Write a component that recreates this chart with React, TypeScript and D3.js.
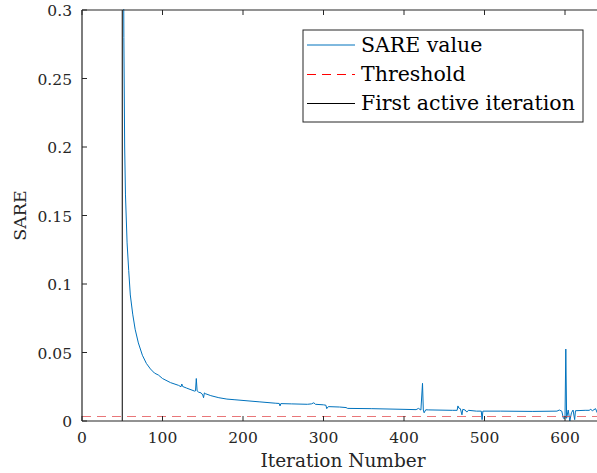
import React from "react";
import * as d3 from "d3";

const iterations = [50, 51, 52, 53, 54, 56, 58, 60, 63, 66, 70, 75, 80, 85, 90, 95, 100, 110, 120, 123, 124, 125, 130, 140, 141, 142, 143, 145, 148, 150, 151, 152, 153, 160, 170, 180, 190, 200, 220, 240, 245, 246, 247, 260, 280, 285, 288, 290, 300, 303, 304, 306, 320, 328, 330, 360, 400, 415, 418, 421, 423, 424, 425, 427, 430, 460, 466, 467, 468, 470, 472, 473, 476, 478, 480, 490, 496, 497, 498, 520, 560, 590, 593, 596, 598, 600, 601, 602, 604, 606, 608, 610, 612, 613, 625, 630, 632, 634, 638, 640, 645];
const sareValues = [0.9, 0.45, 0.28, 0.2, 0.165, 0.13, 0.11, 0.092, 0.078, 0.067, 0.057, 0.048, 0.042, 0.038, 0.035, 0.0335, 0.031, 0.028, 0.026, 0.025, 0.027, 0.0252, 0.024, 0.0218, 0.022, 0.031, 0.022, 0.021, 0.0205, 0.019, 0.017, 0.0205, 0.02, 0.0185, 0.017, 0.016, 0.0155, 0.015, 0.014, 0.013, 0.0128, 0.011, 0.0127, 0.0125, 0.0122, 0.0125, 0.0133, 0.0122, 0.0118, 0.0115, 0.009, 0.0105, 0.0102, 0.0098, 0.0092, 0.009, 0.0085, 0.0083, 0.0092, 0.008, 0.0275, 0.008, 0.006, 0.0082, 0.0081, 0.0078, 0.0078, 0.011, 0.0095, 0.009, 0.0045, 0.0085, 0.008, 0.0065, 0.0078, 0.0072, 0.0072, 0.001, 0.0072, 0.0072, 0.007, 0.0072, 0.008, 0.0072, 0.002, 0.002, 0.0525, 0.002, 0.008, 0.0, 0.006, 0.008, 0.001, 0.0075, 0.0078, 0.0078, 0.0085, 0.0075, 0.009, 0.006, 0.005];
const thresholdValue = 0.004;
const firstActiveIteration = 50;
const xTicks = [0, 100, 200, 300, 400, 500, 600];
const yTicks = [0, 0.05, 0.1, 0.15, 0.2, 0.25, 0.3];
const yTickLabels = ["0", "0.05", "0.1", "0.15", "0.2", "0.25", "0.3"];
const legendLabels = ["SARE value", "Threshold", "First active iteration"];

const W = 597;
const H = 473;
const left = 82;
const top = 10;
const bottom = 421;
const FONT = '"DejaVu Serif", serif';

export default function App() {
  const x = d3.scaleLinear().domain([0, 650]).range([left, left + 650 * 0.805]);
  const y = d3.scaleLinear().domain([0, 0.3]).range([bottom, top]);
  const right = x(650);
  const pts: [number, number][] = iterations.map((it, i) => [it, sareValues[i]]);
  const line = d3
    .line<[number, number]>()
    .x((d) => x(d[0]))
    .y((d) => y(d[1]));
  const axisColor = "#262626";
  const tick = 5;
  const blue = "#0072BD";
  const legX = 303;
  const legY = 30;
  const legW = 280;
  const legH = 92;
  const rows = [45, 74.5, 103.5];
  const ty = Math.round(y(thresholdValue)) + 0.5;
  return (
    <svg
      width={W}
      height={H}
      style={{ position: "absolute", left: 0, top: 0, background: "#fff", fontFamily: FONT }}
    >
      <defs>
        <clipPath id="plot">
          <rect x={left} y={top - 1} width={right - left} height={bottom - top + 1} />
        </clipPath>
      </defs>
      <rect x={0} y={0} width={W} height={H} fill="#fff" />
      <g clipPath="url(#plot)">
        <path d={line(pts) || ""} fill="none" stroke={blue} strokeWidth={1} />
        <line
          x1={x(0)}
          x2={right}
          y1={ty}
          y2={ty}
          stroke="#e03c40"
          strokeOpacity={0.7}
          strokeWidth={1.2}
          strokeDasharray="9 6"
        />
        <line
          x1={x(firstActiveIteration)}
          x2={x(firstActiveIteration)}
          y1={top}
          y2={bottom}
          stroke="#000"
          strokeWidth={1}
        />
      </g>
      <line x1={left} x2={right} y1={bottom} y2={bottom} stroke={axisColor} strokeWidth={1.2} />
      <line x1={left} x2={right} y1={top} y2={top} stroke={axisColor} strokeWidth={1.2} />
      <line x1={left} x2={left} y1={top} y2={bottom} stroke={axisColor} strokeWidth={1.2} />
      {xTicks.map((t) => (
        <g key={"x" + t}>
          <line x1={x(t)} x2={x(t)} y1={bottom} y2={bottom - tick} stroke={axisColor} />
          <line x1={x(t)} x2={x(t)} y1={top} y2={top + tick} stroke={axisColor} />
          <text x={x(t)} y={bottom + 22} textAnchor="middle" fontSize={15.5} fill="#262626">
            {t}
          </text>
        </g>
      ))}
      {yTicks.map((t, i) => (
        <g key={"y" + t}>
          <line x1={left} x2={left + tick} y1={y(t)} y2={y(t)} stroke={axisColor} />
          <text x={left - 10} y={y(t) + 6} textAnchor="end" fontSize={15.5} fill="#262626">
            {yTickLabels[i]}
          </text>
        </g>
      ))}
      <text x={343} y={467} textAnchor="middle" fontSize={18.5} fill="#262626">
        Iteration Number
      </text>
      <text
        transform={`translate(26, ${(top + bottom) / 2}) rotate(-90)`}
        textAnchor="middle"
        fontSize={17.5}
        fill="#262626"
      >
        SARE
      </text>
      <rect x={legX} y={legY} width={legW} height={legH} fill="#fff" stroke={axisColor} strokeWidth={1} />
      {legendLabels.map((lab, i) => (
        <g key={lab}>
          <line
            x1={307}
            x2={355}
            y1={rows[i]}
            y2={rows[i]}
            stroke={i === 0 ? blue : i === 1 ? "#ff0000" : "#000"}
            strokeWidth={1}
            strokeDasharray={i === 1 ? "9 6" : undefined}
          />
          <text x={361} y={rows[i] + 6.5} fontSize={20.5} fill="#000">
            {lab}
          </text>
        </g>
      ))}
    </svg>
  );
}
